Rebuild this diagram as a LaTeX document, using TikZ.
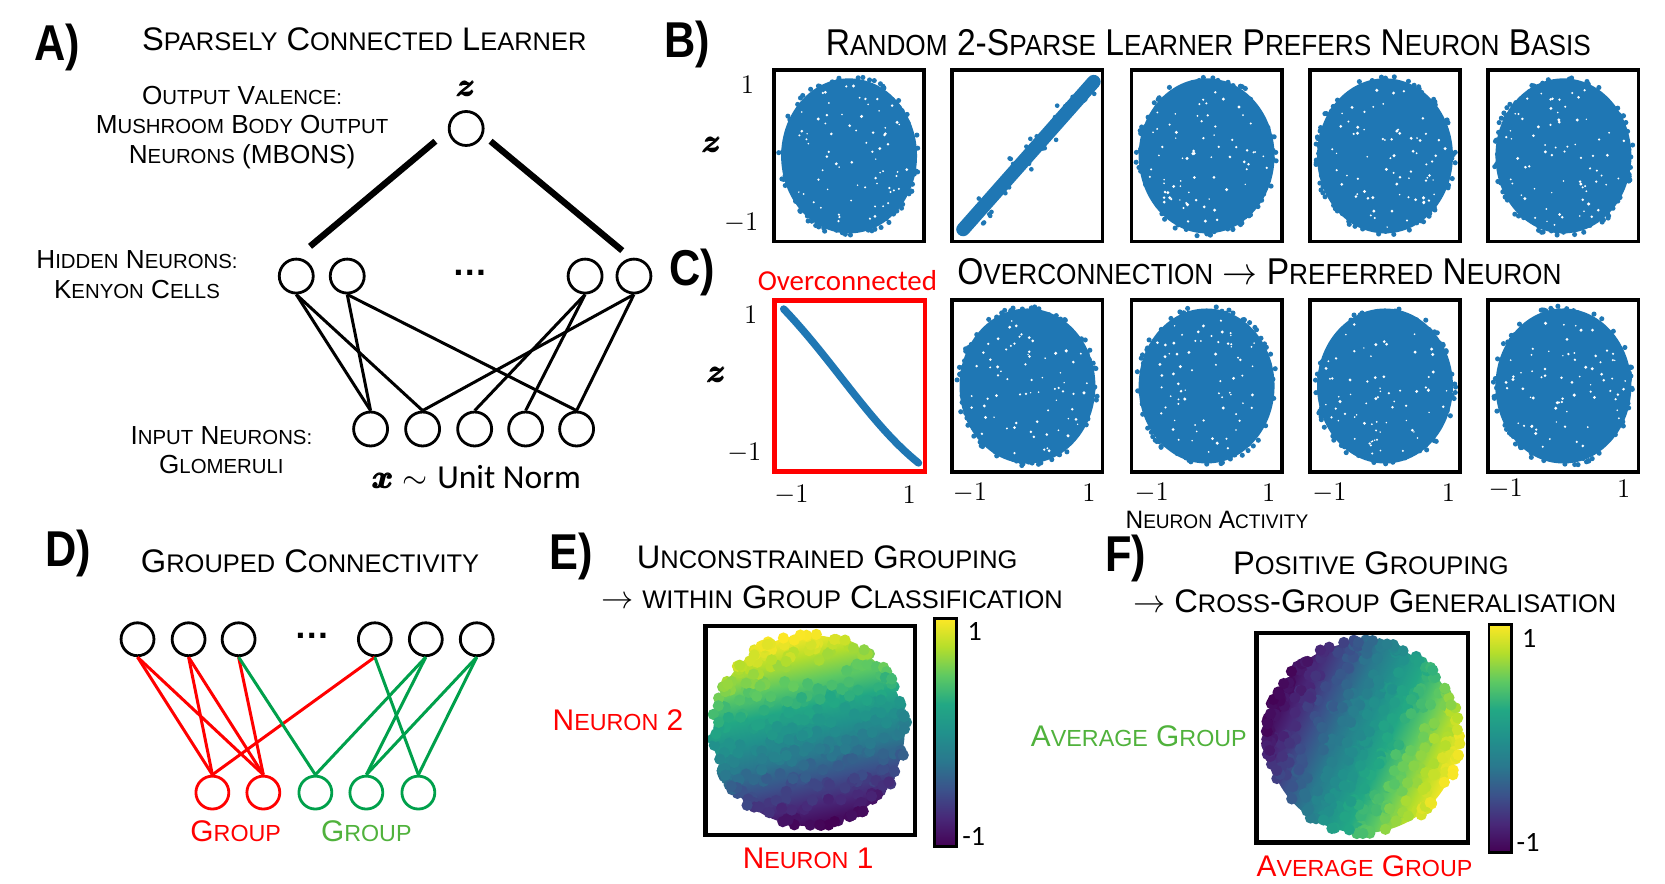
\documentclass[tikz,border=0pt]{standalone}
\usepackage{fontspec}
\setmainfont{Liberation Sans}
\newfontfamily\calib{Carlito}
\usepackage{amsmath}
\usepackage{bm}
\usepackage{graphicx}
\definecolor{sblue}{RGB}{31,119,180}
\definecolor{pred}{RGB}{255,0,0}
\definecolor{pgreen}{RGB}{0,160,75}
\definecolor{tgreen}{RGB}{80,178,60}
\definecolor{vir0}{RGB}{68,1,84}
\definecolor{vir1}{RGB}{72,40,120}
\definecolor{vir2}{RGB}{59,82,139}
\definecolor{vir3}{RGB}{42,120,142}
\definecolor{vir4}{RGB}{33,145,140}
\definecolor{vir5}{RGB}{34,168,132}
\definecolor{vir6}{RGB}{94,201,98}
\definecolor{vir7}{RGB}{181,222,43}
\definecolor{vir8}{RGB}{253,231,37}
\definecolor{vir9}{RGB}{253,231,37}
\pgfdeclareverticalshading{viridisV}{100bp}{color(0bp)=(vir0); color(25bp)=(vir0); color(31.25bp)=(vir1); color(37.5bp)=(vir2); color(43.75bp)=(vir3); color(50bp)=(vir4); color(56.25bp)=(vir5); color(62.5bp)=(vir6); color(68.75bp)=(vir7); color(75bp)=(vir8); color(100bp)=(vir8)}
\pgfdeclarehorizontalshading{viridisH}{100bp}{color(0bp)=(vir0); color(25bp)=(vir0); color(31.25bp)=(vir1); color(37.5bp)=(vir2); color(43.75bp)=(vir3); color(50bp)=(vir4); color(56.25bp)=(vir5); color(62.5bp)=(vir6); color(68.75bp)=(vir7); color(75bp)=(vir8); color(100bp)=(vir8)}
\newcommand\lc[1]{\scalebox{0.78}{#1}}
\newcommand\SC[2]{#1\lc{#2}}
\newcommand\bz[1]{\pmb{\bm{#1}}}
\newcommand\blob[4]{%
  \fill[sblue] (#1,#2) ellipse [x radius=#3, y radius=#4];
  \foreach \k in {1,...,110}{%
    \pgfmathsetmacro\ang{rnd*360}%
    \pgfmathsetmacro\rr{0.92+0.12*rnd}%
    \fill[sblue] ({#1+#3*\rr*cos(\ang)},{#2+#4*\rr*sin(\ang)}) circle [radius=2.4];
  }%
  \foreach \k in {1,...,70}{%
    \pgfmathsetmacro\ang{rnd*360}%
    \pgfmathsetmacro\rr{0.92*sqrt(rnd)}%
    \pgfmathsetmacro\wr{0.7+0.9*rnd}%
    \fill[white] ({#1+#3*\rr*cos(\ang)},{#2+#4*\rr*sin(\ang)}) circle [radius=\wr];
  }%
}
% cx cy ux uy count rmin rmax
\newcommand\virdots[7]{%
  \foreach \k in {1,...,#5}{%
    \pgfmathsetmacro\ang{rnd*360}%
    \pgfmathsetmacro\rr{#6+(#7-#6)*sqrt(rnd)}%
    \pgfmathsetmacro\vpx{#1+\rr*cos(\ang)}%
    \pgfmathsetmacro\vpy{#2+\rr*sin(\ang)}%
    \pgfmathsetmacro\tv{8*max(0,min(0.999,0.5+((\vpx-#1)*#3+(\vpy-#2)*#4)/184+0.03*rand))}%
    \pgfmathtruncatemacro\vsg{floor(\tv)}%
    \pgfmathtruncatemacro\vfr{round((\tv-\vsg)*100)}%
    \pgfmathtruncatemacro\vsn{\vsg+1}%
    \fill[vir\vsn!\vfr!vir\vsg] (\vpx,\vpy) circle [radius=5.3];
  }%
}
\begin{document}
\begin{tikzpicture}[x=0.02cm,y=-0.02cm,
  plab/.style={font=\fontsize{27}{30}\selectfont\bfseries, inner sep=0},
  ttl/.style={font=\fontsize{17.5}{21}\selectfont, inner sep=0},
  ttlc/.style={font=\fontsize{20}{24}\selectfont, inner sep=0},
  lbl/.style={font=\fontsize{14}{15.7}\selectfont, align=center, inner sep=0},
  neu/.style={circle, draw, line width=1.5pt, minimum size=0.64cm, inner sep=0},
  dneu/.style={circle, draw, line width=1.5pt, minimum size=0.62cm, inner sep=0},
  wire/.style={line width=1.6pt},
  thickw/.style={line width=3.4pt},
  pbox/.style={draw, line width=2pt, minimum width=2.83cm, minimum height=3.23cm, inner sep=0},
  ticklab/.style={font=\fontsize{15}{18}\selectfont, inner sep=0},
  zlab/.style={font=\fontsize{16}{18}\selectfont, inner sep=0},
  dotslab/.style={font=\fontsize{19}{22}\selectfont\bfseries, inner sep=0},
  cbar/.style={draw, line width=1.5pt, shade, shading=viridisV, minimum width=0.42cm, minimum height=4.3cm, inner sep=0},
  cblab/.style={font=\calib\fontsize{15}{18}\selectfont, inner sep=0, anchor=west},
  glab/.style={font=\fontsize{16}{19}\selectfont, inner sep=0}
]
\pgfmathsetseed{7}
\useasboundingbox[fill=white] (0,0) rectangle (1568,832);

% ---------------- Panel A
\node[plab] (la) at (54,45) {\scalebox{0.86}[1]{A)}};
\node[ttl] (ta) at (343,37) {\SC{S}{PARSELY} \SC{C}{ONNECTED} \SC{L}{EARNER}};
\node[lbl] (lo) at (228,120) {\SC{O}{UTPUT} \SC{V}{ALENCE}\lc{:}\\\SC{M}{USHROOM} \SC{B}{ODY} \SC{O}{UTPUT}\\\SC{N}{EURONS} (MBONS)};
\node[lbl] (lh) at (129,258.6) {\SC{H}{IDDEN} \SC{N}{EURONS}\lc{:}\\\SC{K}{ENYON} \SC{C}{ELLS}};
\node[lbl] (li) at (208.5,423.7) {\SC{I}{NPUT} \SC{N}{EURONS}\lc{:}\\\SC{G}{LOMERULI}};

\node[zlab] (zl) at (439,84) {$\bz{z}$};
\node[neu] (o) at (439,121) {};
\node[neu] (h1) at (279,260) {};
\node[neu] (h2) at (327,260) {};
\node[neu] (h3) at (551,260) {};
\node[neu] (h4) at (597,260) {};
\node[dotslab] (hd) at (443,257) {\dots};
\node[neu] (i1) at (349,404) {};
\node[neu] (i2) at (398,404) {};
\node[neu] (i3) at (447,404) {};
\node[neu] (i4) at (495,404) {};
\node[neu] (i5) at (543,404) {};
\draw[thickw] ([shift={(-29,12)}]o.center) -- ([shift={(13,-28)}]h1.center);
\draw[thickw] ([shift={(23,12)}]o.center) -- ([shift={(-11,-24)}]h4.center);
\draw[wire] (h1.south) -- (i1.north);
\draw[wire] (h1.south) -- (i2.north);
\draw[wire] (h2.south) -- (i1.north);
\draw[wire] (h2.south) -- (i5.north);
\draw[wire] (h3.south) -- (i3.north);
\draw[wire] (h3.south) -- (i4.north);
\draw[wire] (h4.south) -- (i2.north);
\draw[wire] (h4.south) -- (i5.north);
\node[font=\fontsize{18}{21}\selectfont, inner sep=0] (xn) at (449,449) {$\bz{x}\sim$ {\calib Unit Norm}};

% ---------------- Panel B
\node[plab] (lb) at (647,42) {\scalebox{0.86}[1]{B)}};
\node[ttlc] (tb) at (1138,40) {\scalebox{0.9}[1]{\SC{R}{ANDOM} 2-\SC{S}{PARSE} \SC{L}{EARNER} \SC{P}{REFERS} \SC{N}{EURON} \SC{B}{ASIS}}};
\blob{799.6}{146.8}{64}{73}
\draw[sblue, line width=0.26cm, line cap=round] (907,216) -- (1030,77);
\foreach \k in {1,...,40}{%
  \pgfmathsetmacro\tt{rnd}%
  \pgfmathsetmacro\off{12*rand}%
  \fill[sblue] ({907+123*\tt+0.75*\off},{216-139*\tt+0.66*\off}) circle [radius=2.2];
}
\blob{1136.3}{146.8}{64}{73}
\blob{1304.3}{146.8}{64}{73}
\blob{1472.3}{146.8}{64}{73}
\node[pbox] (b1) at (799.6,146.8) {};
\node[pbox] (b2) at (967.6,146.8) {};
\node[pbox] (b3) at (1136.3,146.8) {};
\node[pbox] (b4) at (1304.3,146.8) {};
\node[pbox] (b5) at (1472.3,146.8) {};
\node[ticklab] (by1) at (704,80) {$1$};
\node[ticklab] (by2) at (698,210) {$-1$};
\node[zlab] (bz) at (670.5,136) {$\bz{z}$};

% ---------------- Panel C
\node[plab] (lc) at (651.7,256.6) {\scalebox{0.86}[1]{C)}};
\node[font=\calib\fontsize{15.5}{18}\selectfont, text=pred, inner sep=0] (oc) at (798,264) {Overconnected};
\node[ttlc] (tc) at (1186,256) {\scalebox{0.9}[1]{\SC{O}{VERCONNECTION} $\rightarrow$ \SC{P}{REFERRED} \SC{N}{EURON}}};
\draw[sblue, line width=0.14cm, line cap=round] (738,291) .. controls (785,340) and (820,400) .. (865,436);
\blob{967.6}{363.5}{64}{73}
\blob{1136.3}{363.5}{64}{73}
\blob{1304.3}{363.5}{64}{73}
\blob{1472.3}{363.5}{64}{73}
\node[pbox, draw=pred, line width=2.4pt] (c1) at (800.3,363.5) {};
\node[pbox] (c2) at (967.6,363.5) {};
\node[pbox] (c3) at (1136.3,363.5) {};
\node[pbox] (c4) at (1304.3,363.5) {};
\node[pbox] (c5) at (1472.3,363.5) {};
\node[ticklab] (cy1) at (707,296.6) {$1$};
\node[ticklab] (cy2) at (701,427) {$-1$};
\node[zlab] (cz) at (675,353) {$\bz{z}$};
\node[ticklab] (cx1a) at (745.4,466) {$-1$};
\node[ticklab] (cx1b) at (856.3,466) {$1$};
\node[ticklab] (cx2a) at (913.4,464) {$-1$};
\node[ticklab] (cx2b) at (1025.4,464) {$1$};
\node[ticklab] (cx3a) at (1084.6,464) {$-1$};
\node[ticklab] (cx3b) at (1194.7,464) {$1$};
\node[ticklab] (cx4a) at (1252,464) {$-1$};
\node[ticklab] (cx4b) at (1364,464) {$1$};
\node[ticklab] (cx5a) at (1418,460) {$-1$};
\node[ticklab] (cx5b) at (1529,460) {$1$};
\node[font=\fontsize{13.5}{16}\selectfont, inner sep=0] (na) at (1146,489.5) {\scalebox{0.97}[1]{\SC{N}{EURON} \SC{A}{CTIVITY}}};

% ---------------- Panel D
\node[plab] (ld) at (64,521) {\scalebox{0.86}[1]{D)}};
\node[ttl] (td) at (292,529) {\SC{G}{ROUPED} \SC{C}{ONNECTIVITY}};
\node[dneu] (t1) at (129.5,602) {};
\node[dneu] (t2) at (177.6,602) {};
\node[dneu] (t3) at (224.7,602) {};
\node[dneu] (t4) at (353,602) {};
\node[dneu] (t5) at (401,602) {};
\node[dneu] (t6) at (449,602) {};
\node[dotslab] (dd) at (293.6,599) {\dots};
\node[dneu, draw=pred] (g1) at (200,746.4) {};
\node[dneu, draw=pred] (g2) at (248,746.4) {};
\node[dneu, draw=pgreen] (g3) at (297,746.4) {};
\node[dneu, draw=pgreen] (g4) at (345,746.4) {};
\node[dneu, draw=pgreen] (g5) at (394,746.4) {};
\draw[wire, pred] (t1.south) -- (g1.north);
\draw[wire, pred] (t1.south) -- (g2.north);
\draw[wire, pred] (t2.south) -- (g1.north);
\draw[wire, pred] (t2.south) -- (g2.north);
\draw[wire, pred] (t3.south) -- (g2.north);
\draw[wire, pred] (t4.south) -- (g1.north);
\draw[wire, pgreen] (t3.south) -- (g3.north);
\draw[wire, pgreen] (t4.south) -- (g5.north);
\draw[wire, pgreen] (t5.south) -- (g3.north);
\draw[wire, pgreen] (t5.south) -- (g4.north);
\draw[wire, pgreen] (t6.south) -- (g4.north);
\draw[wire, pgreen] (t6.south) -- (g5.north);
\node[glab, text=pred] (gr) at (222,783) {\SC{G}{ROUP}};
\node[glab, text=tgreen] (gg) at (345,783) {\SC{G}{ROUP}};

% ---------------- Panel E
\node[plab] (le) at (538,524) {\scalebox{0.86}[1]{E)}};
\node[ttl] (te1) at (779,524.7) {\SC{U}{NCONSTRAINED} \SC{G}{ROUPING}};
\node[ttl] (te2) at (783.5,562) {$\rightarrow$ \lc{WITHIN} \SC{G}{ROUP} \SC{C}{LASSIFICATION}};
\begin{scope}
\clip (762,688) circle [radius=90];
\begin{scope}[transform canvas={rotate around={12:(762,688)}}]
\shade[shading=viridisV] (670,596) rectangle (854,780);
\end{scope}
\end{scope}
\virdots{762}{688}{-0.208}{-0.978}{260}{0}{86}
\virdots{762}{688}{-0.208}{-0.978}{120}{84}{92}
\node[draw, line width=2.4pt, minimum width=3.94cm, minimum height=3.94cm, inner sep=0] (eb) at (763,688) {};
\node[cbar] (cbe) at (890.5,690) {};
\node[cblab] (ce1) at (911,595) {1};
\node[cblab] (ce2) at (906,788) {-1};
\node[glab, text=pred] (en2) at (582,678) {\SC{N}{EURON} 2};
\node[glab, text=pred] (en1) at (761,808) {\SC{N}{EURON} 1};

% ---------------- Panel F
\node[plab] (lf) at (1060,526) {\scalebox{0.86}[1]{F)}};
\node[ttl] (tf1) at (1291,530.5) {\SC{P}{OSITIVE} \SC{G}{ROUPING}};
\node[ttl] (tf2) at (1294.6,566.6) {$\rightarrow$ \SC{C}{ROSS}-\SC{G}{ROUP} \SC{G}{ENERALISATION}};
\begin{scope}
\clip (1283.5,694.5) circle [radius=90];
\begin{scope}[transform canvas={rotate around={-25:(1283.5,694.5)}}]
\shade[shading=viridisH] (1191.5,602.5) rectangle (1375.5,786.5);
\end{scope}
\end{scope}
\virdots{1283.5}{694.5}{0.906}{0.423}{260}{0}{86}
\virdots{1283.5}{694.5}{0.906}{0.423}{120}{84}{92}
\node[draw, line width=2.4pt, minimum width=3.99cm, minimum height=3.95cm, inner sep=0] (fb) at (1282.8,694.8) {};
\node[cbar] (cbf) at (1412.8,695.3) {};
\node[cblab] (cf1) at (1433,601) {1};
\node[cblab] (cf2) at (1428,793.5) {-1};
\node[glab, text=tgreen] (fg) at (1072.5,693.7) {\SC{A}{VERAGE} \SC{G}{ROUP}};
\node[glab, text=pred] (fr) at (1285,816) {\SC{A}{VERAGE} \SC{G}{ROUP}};
\end{tikzpicture}
\end{document}
